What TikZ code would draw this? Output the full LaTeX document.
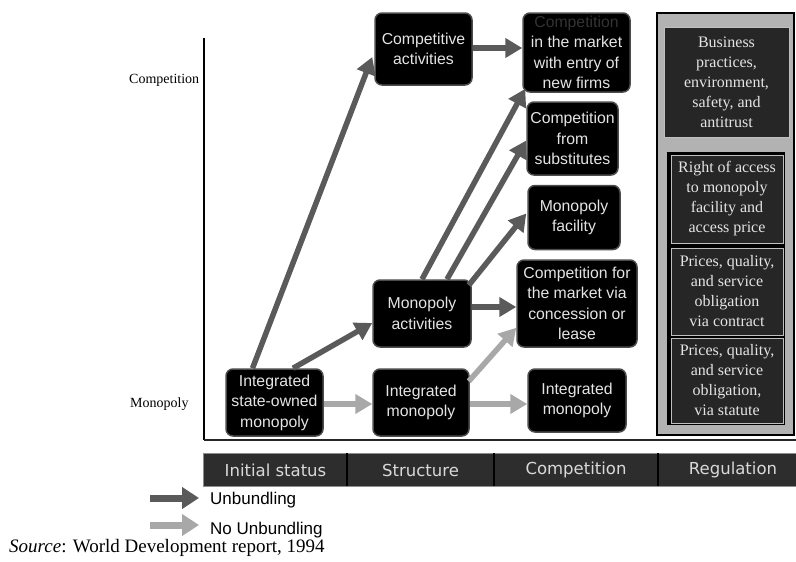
\documentclass[tikz,border=0pt]{standalone}
\usepackage{fontspec}
\setmainfont{Liberation Serif}
\setsansfont{Liberation Sans}
\newfontfamily\hdrfont{DejaVu Sans}
\usetikzlibrary{arrows.meta,calc}
\definecolor{dkarrow}{HTML}{5A5A5A}
\definecolor{ltarrow}{HTML}{A8A8A8}
\definecolor{panelgray}{HTML}{B2B2B2}
\definecolor{regfill}{HTML}{262626}
\definecolor{hdrfill}{HTML}{2D2D2D}
\definecolor{boxtext}{HTML}{E4E4E4}
\tikzset{
  blk/.style={draw=black!70, line width=1.5pt, fill=black, rounded corners=7pt,
    inner sep=0pt, align=center, text=boxtext,
    font=\sffamily\fontsize{15.8}{20.5}\selectfont},
  regbox/.style={draw=black!25, line width=0.8pt, fill=regfill, inner sep=0pt,
    align=center, text=boxtext, font=\fontsize{16}{20}\selectfont},
  unb/.style={draw=dkarrow, line width=5.5pt, -{Triangle[length=17pt,width=19pt]}},
  nounb/.style={draw=ltarrow, line width=5.5pt, -{Triangle[length=17pt,width=19pt]}},
  legunb/.style={line width=7pt, -{Triangle[length=17pt,width=21pt]}},
  hdrtxt/.style={text=black!15, font=\hdrfont\fontsize{16.5}{20}\selectfont, inner sep=0pt},
  axlbl/.style={font=\fontsize{14}{16}\selectfont, inner sep=0pt}
}
\begin{document}
\begin{tikzpicture}[x=1pt,y=-1pt]
\useasboundingbox (0,0) rectangle (796,562);

% axes
\coordinate (axtop) at (204,38);
\coordinate (axorig) at (204,440);
\coordinate (axright) at (796,440);
\draw[line width=1.5pt] (axtop) -- (axorig);
\draw[line width=2pt, black!85] (axorig) -- (axright);
\node[axlbl, anchor=west] (lblcomp) at (129,80) {Competition};
\node[axlbl, anchor=west] (lblmono) at (130,404) {Monopoly};

% nodes
\node[blk, minimum width=97pt, minimum height=72pt] (comp) at (423.5,49) {Competitive\\activities};
\node[blk, minimum width=107pt, minimum height=79pt] (inmkt) at (576.5,52.5)
  {\textcolor{black!80}{Competition}\\in the market\\with entry of\\new firms};
\node[blk, minimum width=91pt, minimum height=73pt] (subst) at (572.5,138.5) {Competition\\from\\substitutes};
\node[blk, minimum width=92pt, minimum height=64pt] (facil) at (574,217.5) {Monopoly\\facility};
\node[blk, minimum width=120pt, minimum height=87pt] (concess) at (577,303.5) {Competition for\\the market via\\concession or\\lease};
\node[blk, minimum width=98pt, minimum height=67pt] (monact) at (422,313.5) {Monopoly\\activities};
\node[blk, minimum width=97pt, minimum height=67pt] (isom) at (274.5,402.5) {Integrated\\state-owned\\monopoly};
\node[blk, minimum width=96pt, minimum height=67pt] (intmon) at (421,402.5) {Integrated\\monopoly};
\node[blk, minimum width=98pt, minimum height=63pt] (intmonb) at (577,400.5) {Integrated\\monopoly};

% regulation panel
\node[draw=black, line width=2pt, fill=panelgray, minimum width=137pt, minimum height=422pt, inner sep=0pt] (panel) at (725.5,224) {};
\node[regbox, minimum width=125pt, minimum height=110pt] (business) at (726.5,82)
  {Business\\practices,\\environment,\\safety, and\\antitrust};
\node[fill=black, minimum width=118pt, minimum height=273pt, inner sep=0pt] (regcont) at (726,288.5) {};
\node[regbox, minimum width=112pt, minimum height=88pt] (access) at (727,199)
  {Right of access\\to monopoly\\facility and\\access price};
\node[regbox, minimum width=112pt, minimum height=87pt] (contract) at (727,291.5)
  {Prices, quality,\\and service\\obligation\\via contract};
\node[regbox, minimum width=112pt, minimum height=85pt] (statute) at (727,380.5)
  {Prices, quality,\\and service\\obligation,\\via statute};

% arrows: unbundling
\draw[unb] ($(isom.north)+(-22,0)$) -- ($(comp.west)+(-2,8)$);
\draw[unb] ($(isom.north)+(18.5,0)$) -- ($(monact.west)+(0,9.5)$);
\draw[unb] ($(comp.east)+(0,-1)$) -- ($(inmkt.west)+(0,-4.5)$);
\draw[unb] (monact.north) -- ($(inmkt.south west)+(3,-4)$);
\draw[unb] ($(monact.north)+(25,0)$) -- ($(subst.west)+(0,2)$);
\draw[unb] ($(monact.north east)+(-3,6)$) -- ($(facil.west)+(-1,-4)$);
\draw[unb] ($(monact.east)+(0,-6.5)$) -- ($(concess.west)+(0,3.5)$);
% arrows: no unbundling
\draw[nounb] ($(isom.east)+(0,1.5)$) -- ($(intmon.west)+(0,1.5)$);
\draw[nounb] ($(intmon.north east)+(-1,13)$) -- ($(concess.south west)+(0,-20)$);
\draw[nounb] ($(intmon.east)+(0,1.5)$) -- ($(intmonb.west)+(0,3.5)$);

% header bar
\node[draw=black!45, line width=0.8pt, fill=hdrfill, minimum width=594pt, minimum height=33pt, inner sep=0pt, anchor=north west] (hdr) at (203,453) {};
\coordinate (d1t) at (347,453); \coordinate (d1b) at (347,486);
\coordinate (d2t) at (494,453); \coordinate (d2b) at (494,486);
\coordinate (d3t) at (658,453); \coordinate (d3b) at (658,486);
\draw[line width=2.5pt, black] (d1t) -- (d1b);
\draw[line width=2.5pt, black] (d2t) -- (d2b);
\draw[line width=2.5pt, black] (d3t) -- (d3b);
\node[hdrtxt] (h1) at (275.5,470) {Initial status};
\node[hdrtxt] (h2) at (420.5,470) {Structure};
\node[hdrtxt] (h3) at (576,470) {Competition};
\node[hdrtxt] (h4) at (733,470) {Regulation};

% legend
\coordinate (la1) at (150,498); \coordinate (la2) at (199,498);
\coordinate (lb1) at (150,525); \coordinate (lb2) at (199,525);
\draw[legunb, draw=dkarrow] (la1) -- (la2);
\draw[legunb, draw=ltarrow] (lb1) -- (lb2);
\node[anchor=west, inner sep=0pt, font=\sffamily\fontsize{17}{20}\selectfont] (legu) at (210,500) {Unbundling};
\node[anchor=west, inner sep=0pt, font=\sffamily\fontsize{17}{20}\selectfont] (legn) at (210,530) {No Unbundling};
\node[anchor=west, inner sep=0pt, font=\fontsize{19}{22}\selectfont] (src) at (9,548) {\textit{Source}: World Development report, 1994};
\end{tikzpicture}
\end{document}
